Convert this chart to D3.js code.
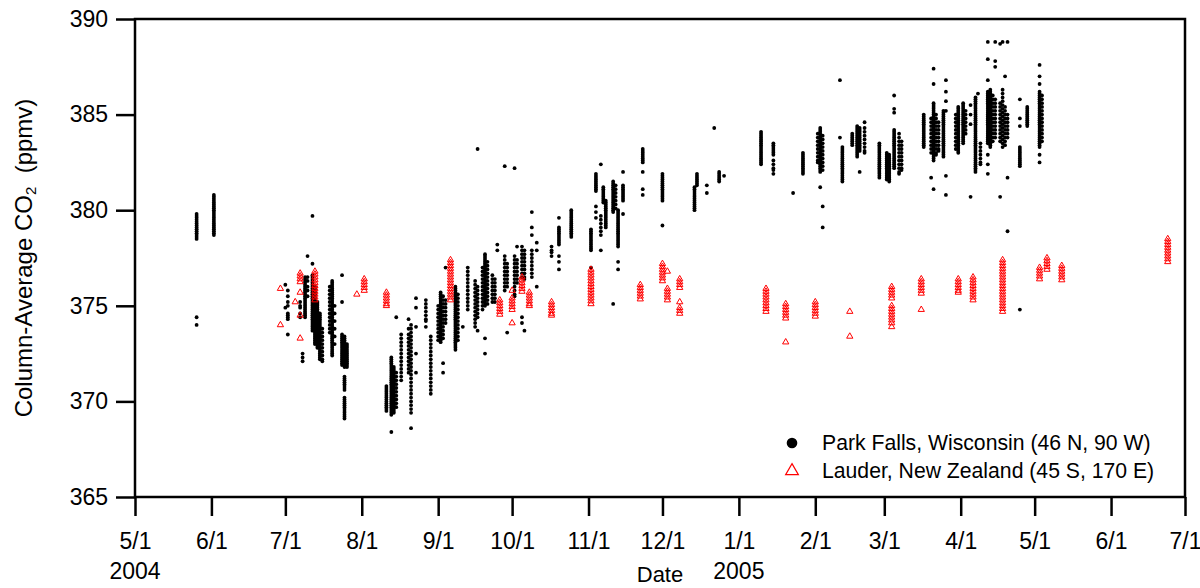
<!DOCTYPE html>
<html>
<head>
<meta charset="utf-8">
<script src="https://cdn.jsdelivr.net/npm/d3@7"></script>
<style>
  body { margin: 0; background: #fff; }
  svg text { font-family: Arial, "Liberation Sans", sans-serif; fill: #000; }
</style>
</head>
<body>
<div id="chart"></div>
<script>
// Park Falls, Wisconsin: [date, column-average CO2 values (ppmv)]
var parkFalls = [
  ["2004-05-26", [379.8,379.7,379.6,379.5,379.4,379.3,379.2,379.1,379.0,378.9,378.8,378.7,378.6,378.5,374.4,374.0]],
  ["2004-06-02", [380.8,380.7,380.6,380.5,380.4,380.3,380.2,380.1,380.0,379.9,379.8,379.7,379.6,379.5,379.4,379.3,379.2,379.1,379.0,378.9,378.8,378.7]],
  ["2004-07-01", [376.1,374.9]],
  ["2004-07-02", [375.8,375.5,375.2,375.0,374.6,374.5,374.4,374.3,373.5]],
  ["2004-07-07", [375.2,375.0,374.9,374.6,374.4]],
  ["2004-07-08", [372.5,372.3,372.1]],
  ["2004-07-09", [376.5,376.4,376.3,376.2,376.1,376.0,375.9,375.8,375.7,375.6,375.5,375.4,375.3,375.2,375.1,375.0,374.9,374.8,374.7,374.6,374.5,374.4]],
  ["2004-07-10", [377.6,376.5,376.3,376.0,375.8,375.5]],
  ["2004-07-12", [379.7,377.2,376.6,376.5,376.4,376.3,376.2,376.1,376.0,375.9,375.8,375.7,375.6,375.5,375.4,375.3,375.2,375.1,375.0,374.9,374.8,374.7,374.6,374.5,374.4,374.3,374.2,374.1,374.0,373.9,373.8,373.7]],
  ["2004-07-13", [376.0,375.9,375.8,375.7,375.6,375.5,375.4,375.3,375.2,375.1,375.0,374.9,374.8,374.7,374.6,374.5,374.4,374.3,374.2,374.1,374.0,373.9,373.8,373.7,373.6,373.5,373.4,373.3,373.2,373.1,373.0]],
  ["2004-07-14", [375.2,375.1,375.0,374.9,374.8,374.7,374.6,374.5,374.4,374.3,374.2,374.1,374.0,373.9,373.8,373.7,373.6,373.5,373.4,373.3,373.2,373.1,373.0,372.9,372.8]],
  ["2004-07-15", [374.6,374.5,374.4,374.3,374.2,374.1,374.0,373.9,373.8,373.7,373.6,373.5,373.4,373.3,373.2,373.1,373.0,372.9,372.8,372.7,372.6,372.5,372.4,372.3,372.2]],
  ["2004-07-16", [373.8,373.6,373.4,373.2,373.0,372.8,372.6,372.4,372.2,372.1]],
  ["2004-07-19", [376.0,375.8,375.6,375.4,375.2,375.0,374.8,374.6,374.4,374.2,374.0,373.8,373.6]],
  ["2004-07-20", [376.3,376.2,376.1,376.0,375.9,375.8,375.7,375.6,375.5,375.4,375.3,375.2,375.1,375.0,374.9,374.8,374.7,374.6,374.5,374.4,374.3,374.2,374.1,374.0,373.9,373.8,373.7,373.6,373.5,373.4,373.3,373.2,373.1,373.0,372.9,372.8,372.7,372.6,372.5,372.4]],
  ["2004-07-21", [375.0,374.6,374.2,373.8,373.4,373.0]],
  ["2004-07-24", [376.6,375.2,373.5,373.4,373.3,373.2,373.1,373.0,372.9,372.8,372.7,372.6,372.5,372.4,372.3,372.2,372.1,372.0,371.9]],
  ["2004-07-25", [373.4,373.3,373.2,373.1,373.0,372.9,372.8,372.7,372.6,372.5,372.4,372.3,372.2,372.1,372.0,371.9,371.8,371.3,371.2,371.1,371.0,370.9,370.8,370.7,370.6,370.2,370.1,370.0,369.9,369.8,369.7,369.6,369.5,369.4,369.3,369.2,369.1]],
  ["2004-07-26", [373.0,372.9,372.8,372.7,372.6,372.5,372.4,372.3,372.2,372.1,372.0,371.9,371.8]],
  ["2004-08-11", [370.8,370.7,370.6,370.5,370.4,370.3,370.2,370.1,370.0,369.9,369.8,369.7,369.6,369.5]],
  ["2004-08-13", [372.3,372.2,372.1,372.0,371.9,371.8,371.7,371.6,371.5,371.4,371.3,371.2,371.1,371.0,370.9,370.8,370.7,370.6,370.5,370.4,370.3,370.2,370.1,370.0,369.9,369.8,369.7,369.6,369.5,369.4,369.3,368.4]],
  ["2004-08-14", [371.8,371.7,371.6,371.5,371.4,371.3,371.2,371.1,371.0,370.9,370.8,370.7,370.6,370.5,370.4,370.3,370.2,370.1,370.0,369.9,369.8,369.7,369.6,369.5,369.4]],
  ["2004-08-15", [374.4,371.5,371.3,371.1,370.9,370.7,370.5,370.3,370.1,369.9,369.7]],
  ["2004-08-17", [373.5,373.3,373.1,372.9,372.7,372.5,372.3,372.1,371.9,371.7,371.5,371.3,371.1]],
  ["2004-08-20", [374.3,373.8,373.5,373.3,373.1,372.9,372.7,372.5,372.3,372.1,371.9,371.7,371.5]],
  ["2004-08-21", [374.0,373.8,373.6,373.4,373.2,373.0,372.8,372.6,372.4,372.2,372.0,371.8,371.6,371.4,371.2,371.0,370.8,370.6,370.4,370.2,370.0,369.8,369.6,369.4,368.6]],
  ["2004-08-23", [375.4,374.9,373.9,372.5,371.5]],
  ["2004-08-27", [375.3,375.1,374.9,374.7,374.5,374.3,374.2,373.9]],
  ["2004-08-29", [373.4,373.2,373.0,372.8,372.6,372.4,372.2,372.0,371.8,371.6,371.4,371.2,371.0,370.8,370.6,370.4]],
  ["2004-09-01", [375.0,374.8,374.6,374.4,374.2,374.0,373.8,373.6,373.4,373.2]],
  ["2004-09-02", [375.7,375.6,375.5,375.4,375.3,375.2,375.1,375.0,374.9,374.8,374.7,374.6,374.5,374.4,374.3,374.2,374.1,374.0,373.9,373.8,373.7,373.6,373.5,373.4,373.3,373.2,373.1]],
  ["2004-09-03", [375.5,375.3,375.1,374.9,374.7,374.5,374.3,374.1,373.9,373.7,373.5,373.3,372.0,371.5]],
  ["2004-09-04", [377.0,375.3,375.1,374.9,374.7,374.5,374.3,374.1]],
  ["2004-09-08", [376.0,375.9,375.8,375.7,375.6,375.5,375.4,375.3,375.2,375.1,375.0,374.9,374.8,374.7,374.6,374.5,374.4,374.3,374.2,374.1,374.0,373.9,373.8,373.7,373.6,373.5,373.4,373.3,373.2,373.1,373.0,372.9,372.8,372.7]],
  ["2004-09-09", [375.6,375.4,375.2,375.0,374.8,374.6,374.4,374.2,374.0,373.8,373.6,373.4,373.2]],
  ["2004-09-11", [373.9]],
  ["2004-09-13", [377.0,376.8,376.6,376.4,376.2,376.0,375.8,375.6,375.4,375.2,375.0,374.8]],
  ["2004-09-16", [376.3,376.1,375.9,375.7,375.5,375.3,375.1,374.9,374.7,374.5,374.3,374.1,373.9]],
  ["2004-09-17", [383.2,376.0,375.8,375.6,375.4,375.2,375.0,374.8,374.6,374.4,373.7]],
  ["2004-09-19", [377.0,376.8,376.6,376.4,376.2,376.0,375.8,375.6,375.4,375.2,375.0,374.8]],
  ["2004-09-20", [377.7,377.6,377.5,377.4,377.3,377.2,377.1,377.0,376.9,376.8,376.7,376.6,376.5,376.4,376.3,376.2,376.1,376.0,375.9,375.8,375.7,375.6,375.5,375.4,375.3,375.2,375.1,375.0,373.3,372.5]],
  ["2004-09-21", [377.3,377.1,376.9,376.7,376.5,376.3,376.1,375.9,375.7,375.5,375.3,375.1]],
  ["2004-09-23", [376.6,376.4,376.2,376.0,375.8,375.6,375.4,375.2]],
  ["2004-09-24", [376.4,376.2,376.0,375.8,375.6,375.4,375.2]],
  ["2004-09-25", [378.2,377.9]],
  ["2004-09-28", [382.3,377.6,377.4,377.2,377.0,376.8,376.6,376.4,376.2,376.0,375.8]],
  ["2004-09-29", [377.2,377.0,376.8,376.6,376.4,376.2,376.0,373.6]],
  ["2004-10-02", [382.2,377.6,377.4,377.2,377.0,376.8,376.6,376.4,376.2,376.0,375.8,375.6,375.5]],
  ["2004-10-03", [378.1,377.4,377.2,377.0,376.8,376.6,376.4,376.2]],
  ["2004-10-05", [378.1,377.9,377.7,377.5,377.3,377.1,376.9,376.7,376.5,374.4,374.1]],
  ["2004-10-06", [377.9,377.7,377.5,377.3,377.1,376.9,376.7,376.5,376.4,373.7]],
  ["2004-10-09", [379.9,379.1,378.7,377.9,377.7,377.5,377.3,377.1,376.9,376.7,376.5]],
  ["2004-10-11", [378.3,377.9,376.0]],
  ["2004-10-17", [378.1,377.9,377.8,377.6]],
  ["2004-10-20", [379.6,379.1,379.0,378.9,378.8,378.7,378.6,378.5,378.4,378.3,378.2,377.6,377.3,376.9]],
  ["2004-10-25", [380.0,379.9,379.8,379.7,379.6,379.5,379.4,379.3,379.2,379.1,379.0,378.9,378.8,378.7,378.6]],
  ["2004-11-02", [379.0,378.9,378.8,378.7,378.6,378.5,378.4,378.3,378.2,378.1,378.0,377.9,377.0]],
  ["2004-11-04", [381.9,381.8,381.7,381.6,381.5,381.4,381.3,381.2,381.1,381.0,380.2,379.9,379.6]],
  ["2004-11-06", [382.4,379.7,379.5,379.3,379.1,378.9,378.7,377.9]],
  ["2004-11-07", [381.2,381.1,381.0,380.9,380.8,380.7,380.6,380.5,380.4]],
  ["2004-11-08", [380.5,380.4,380.3,380.2,380.1,380.0,379.9,379.8,379.7,379.6,379.5,379.4,379.3,379.2,379.1]],
  ["2004-11-11", [381.5,381.4,381.3,381.2,381.1,381.0,380.9,380.8,380.7,380.6,380.5,380.4,380.3,380.2,380.1,380.0,379.9,375.1]],
  ["2004-11-12", [381.3,381.1,380.9,380.7,380.5,380.3,380.1]],
  ["2004-11-13", [380.0,379.9,379.8,379.7,379.6,379.5,379.4,379.3,379.2,379.1,379.0,378.9,378.8,378.7,378.6,378.5,378.4,378.3,378.2,378.1,377.3,376.9]],
  ["2004-11-15", [382.0,381.3,381.2,381.1,381.0,380.9,380.8,380.7,380.6,380.5,379.8]],
  ["2004-11-23", [383.2,383.1,383.0,382.9,382.8,382.7,382.6,382.5,382.0,381.1,380.8]],
  ["2004-12-01", [381.9,381.8,381.7,381.6,381.5,381.4,381.3,381.2,381.1,381.0,380.9,380.8,380.7,380.6,380.5,379.2]],
  ["2004-12-14", [381.2,381.1,381.0,380.9,380.8,380.7,380.6,380.5,380.4,380.3,380.2,380.1,380.0]],
  ["2004-12-15", [381.9,381.8,381.7,381.6,381.5,381.4,381.3]],
  ["2004-12-19", [381.3,380.9]],
  ["2004-12-22", [384.3]],
  ["2004-12-24", [382.0,381.9,381.8,381.7,381.6,381.5]],
  ["2004-12-26", [381.8]],
  ["2005-01-10", [384.1,384.0,383.9,383.8,383.7,383.6,383.5,383.4,383.3,383.2,383.1,383.0,382.9,382.8,382.7,382.6,382.5,382.4]],
  ["2005-01-15", [383.5,383.4,383.3,383.2,383.1,383.0,382.9,382.6,382.4,382.2,382.1,381.9]],
  ["2005-01-23", [380.9]],
  ["2005-01-27", [383.0,382.9,382.8,382.7,382.6,382.5,382.4,382.3,382.2,382.1,382.0,381.9]],
  ["2005-02-02", [384.0,383.8,383.6,383.4,383.2,383.0,382.8,382.6,382.5]],
  ["2005-02-03", [384.3,384.2,384.1,384.0,383.9,383.8,383.7,383.6,383.5,383.4,383.3,383.2,383.1,383.0,382.9,382.8,382.7,382.6,382.5,382.4,382.3,382.2,382.1,382.0,381.2]],
  ["2005-02-04", [383.9,383.7,383.5,383.3,383.1,382.9,382.7,382.5,382.3,382.1,380.2,379.1]],
  ["2005-02-11", [386.8,383.8]],
  ["2005-02-12", [383.3,383.2,383.1,383.0,382.9,382.8,382.7,382.6,382.5,382.4,382.3,382.2,382.1,382.0,381.9,381.8,381.7,381.6,381.5]],
  ["2005-02-16", [384.0,383.9,383.8,383.7,383.6,383.5,383.4]],
  ["2005-02-18", [384.4,384.3,384.2,384.1,384.0,383.9,383.8,383.7,383.6,383.5,383.4,383.3,383.2,383.1,383.0,382.9,382.8]],
  ["2005-02-19", [384.3,384.2,384.1,384.0,383.9,383.8,383.7,383.6,383.5,383.4,383.3,383.2,383.1,382.0]],
  ["2005-02-21", [384.6,384.3,384.1,383.9,383.7,383.5,383.3,383.1,383.0]],
  ["2005-02-27", [383.5,383.4,383.3,383.2,383.1,383.0,382.9,382.8,382.7,382.6,382.5,382.4,382.3,382.2,382.1,382.0,381.9,381.8,381.7]],
  ["2005-03-02", [383.0,382.9,382.8,382.7,382.6,382.5,382.4,382.3,382.2,382.1,382.0,381.9,381.8,381.7,381.6]],
  ["2005-03-03", [382.9,382.8,382.7,382.6,382.5,382.4,382.3,382.2,382.1,382.0,381.9,381.8,381.7,381.6,381.5]],
  ["2005-03-05", [386.0,385.3,385.1,384.2,384.1,384.0,383.9,383.8,383.7,383.6,383.5,383.4,383.3,383.2,383.1,383.0,382.9,382.8,382.7,382.6,382.5,382.4,382.3,382.2]],
  ["2005-03-07", [384.0,383.8,383.6,383.4,383.2,383.0,382.8,382.6,382.4,382.2,382.0,381.9]],
  ["2005-03-08", [383.6,383.4,383.2,383.0,382.8,382.6,382.4,382.2,382.1]],
  ["2005-03-17", [385.0,384.9,384.8,384.7,384.6,384.5,384.4,384.3,384.2,384.1,384.0,383.9,383.8,383.7,383.6,383.5,383.4,383.3]],
  ["2005-03-20", [384.8,384.6,384.4,384.2,384.0,383.8,383.6,383.4,383.2,383.0,381.7]],
  ["2005-03-21", [387.4,386.6,385.6,385.5,385.4,385.3,385.2,385.1,385.0,384.9,384.8,384.7,384.6,384.5,384.4,384.3,384.2,384.1,384.0,383.9,383.8,383.7,383.6,383.5,383.4,383.3,383.2,383.1,383.0,382.9,382.8,382.7,382.6,381.1]],
  ["2005-03-22", [385.0,384.8,384.6,384.4,384.2,384.0,383.8,383.6,383.4,383.2,383.0,382.9]],
  ["2005-03-23", [384.6,384.4,384.2,384.0,383.8,383.6,383.4,383.2,383.1]],
  ["2005-03-25", [385.2,385.1,385.0,384.9,384.8,384.7,384.6,384.5,384.4,384.3,384.2,384.1,384.0,383.9,383.8,383.7,383.6,383.5,383.4,383.3,383.2,383.1,383.0,382.9,382.8]],
  ["2005-03-26", [386.8,386.2,385.7,385.2,381.8,380.8]],
  ["2005-03-30", [385.0,384.8,384.6,384.4,384.2,384.0,383.8,383.6,383.4,383.2]],
  ["2005-03-31", [385.4,385.3,385.2,385.1,385.0,384.9,384.8,384.7,384.6,384.5,384.4,384.3,384.2,384.1,384.0,383.9,383.8,383.7,383.6,383.5,383.4,383.3,383.2,383.1,383.0]],
  ["2005-04-02", [385.6,385.5,385.4,385.3,385.2,385.1,385.0,384.9,384.8,384.7,384.6,384.5,384.4,384.3,384.2,384.1,384.0,383.9,383.8,383.7,383.6,383.5]],
  ["2005-04-03", [385.2,385.0,384.8,384.6,384.4,384.2,384.0]],
  ["2005-04-05", [385.5,385.0,384.5,380.7]],
  ["2005-04-07", [385.9,385.8,385.7,385.6,385.5,385.4,385.3,385.2,385.1,385.0,384.9,384.8,384.7,384.6,384.5,384.4,384.3,384.2,384.1,384.0,383.9,383.8,383.7,383.6,383.5,383.4,383.3,383.2,383.1,383.0,382.9,382.8,382.7,382.6,382.5,382.4,382.3,382.2,382.1,382.0]],
  ["2005-04-08", [386.1]],
  ["2005-04-09", [383.5,383.3,383.1,382.9,382.7,382.5,382.4]],
  ["2005-04-12", [388.8,387.9,386.8,386.2,386.1,386.0,385.9,385.8,385.7,385.6,385.5,385.4,385.3,385.2,385.1,385.0,384.9,384.8,384.7,384.6,384.5,384.4,384.3,384.2,384.1,384.0,383.9,383.8,383.7,383.6,383.5,382.9,382.4,381.9]],
  ["2005-04-13", [386.3,386.2,386.1,386.0,385.9,385.8,385.7,385.6,385.5,385.4,385.3,385.2,385.1,385.0,384.9,384.8,384.7,384.6,384.5,384.4,384.3,384.2,384.1,384.0,383.9,383.8,383.7,383.6,383.5,383.4,383.3]],
  ["2005-04-14", [386.0,385.8,385.6,385.4,385.2,385.0,384.8,384.6,384.4,384.2,384.0,383.8,383.6]],
  ["2005-04-15", [388.8,387.8,387.5,385.8,385.6,385.4,385.2,385.0,384.8,384.6,384.4,384.2,384.0,383.8]],
  ["2005-04-17", [388.7,385.6,385.4,385.2,385.0,384.8,384.6,384.4,384.2,384.0,383.8,383.6,380.7]],
  ["2005-04-18", [388.8,386.3,386.1,385.9,385.7,385.5,385.3,385.1,384.9,384.7,384.5,384.3,384.1,383.9,383.7,383.5,383.3]],
  ["2005-04-19", [387.0,385.4,385.2,385.0,384.8,384.6,384.4,384.2,384.0,383.8,383.6,383.4]],
  ["2005-04-20", [388.8,385.0,384.8,384.6,384.4,384.2,384.0,383.8,381.7,378.9]],
  ["2005-04-25", [385.8,384.8,384.4,383.3,383.2,383.1,383.0,382.9,382.8,382.7,382.6,382.5,382.4,382.3,374.8]],
  ["2005-04-28", [385.4,385.3,385.2,385.1,385.0,384.9,384.8,384.7,384.6,384.5,384.4]],
  ["2005-05-03", [387.6,387.0,386.6,386.2,386.1,386.0,385.9,385.8,385.7,385.6,385.5,385.4,385.3,385.2,385.1,385.0,384.9,384.8,384.7,384.6,384.5,384.4,384.3,384.2,384.1,384.0,383.9,383.8,383.7,383.6,383.5,383.4,383.3,382.9,382.5]],
  ["2005-05-04", [386.0,385.8,385.6,385.4,385.2,385.0,384.8,384.6,384.4,384.2,384.0,383.8,383.6]]
];

// Lauder, New Zealand
var lauder = [
  ["2004-06-29", [375.9,374.0]],
  ["2004-07-05", [375.2]],
  ["2004-07-07", [376.7,376.55,376.4,376.25,375.7,374.5,373.3]],
  ["2004-07-13", [376.8,376.65,376.5,376.35,376.2,376.05,375.9,375.75,375.6,375.45,375.3]],
  ["2004-07-30", [375.6]],
  ["2004-08-02", [376.4,376.25,376.1,375.95,375.8]],
  ["2004-08-11", [375.7,375.55,375.4,375.25,375.1,375.0]],
  ["2004-09-06", [377.4,377.25,377.1,376.95,376.8,376.65,376.5,376.35,376.2,376.05,375.9,375.75,375.6,375.45,375.3]],
  ["2004-09-26", [375.3,375.15,375.0,374.85,374.7,374.55]],
  ["2004-10-01", [375.8,375.4,375.25,375.1,374.95,374.8,374.1]],
  ["2004-10-05", [376.5,376.35,376.2,376.05,375.9,375.75]],
  ["2004-10-08", [375.7,375.55,375.4,375.25,375.1,375.0]],
  ["2004-10-17", [375.2,375.05,374.9,374.75,374.6,374.5]],
  ["2004-11-02", [376.9,376.75,376.6,376.45,376.3,376.15,376.0,375.85,375.7,375.55,375.4,375.25,375.1]],
  ["2004-11-22", [376.1,375.95,375.8,375.65,375.5,375.35]],
  ["2004-12-01", [377.2,377.05,376.9,376.75,376.6,376.45,376.3]],
  ["2004-12-03", [376.8,375.9,375.75,375.6,375.45,375.3]],
  ["2004-12-08", [376.4,376.25,376.1,375.95,375.2,374.9,374.75,374.6]],
  ["2005-01-12", [375.9,375.75,375.6,375.45,375.3,375.15,375.0,374.85,374.7]],
  ["2005-01-20", [375.1,374.95,374.8,374.65,374.5,374.35,373.1]],
  ["2005-02-01", [375.2,375.05,374.9,374.75,374.6,374.45]],
  ["2005-02-15", [374.7,373.4]],
  ["2005-03-04", [376.0,375.85,375.7,375.55,375.4,375.0,374.85,374.7,374.55,374.4,374.25,374.1,373.9]],
  ["2005-03-16", [376.4,376.25,376.1,375.95,375.8,375.65,374.8]],
  ["2005-03-31", [376.4,376.25,376.1,375.95,375.8,375.7]],
  ["2005-04-06", [376.5,376.35,376.2,376.05,375.9,375.75,375.6,375.45,375.3]],
  ["2005-04-18", [377.4,377.25,377.1,376.95,376.8,376.65,376.5,376.35,376.2,376.05,375.9,375.75,375.6,375.45,375.3,375.15,375.0,374.85,374.7]],
  ["2005-05-03", [377.0,376.85,376.7,376.55,376.4]],
  ["2005-05-06", [377.5,377.35,377.2,377.05,376.9]],
  ["2005-05-12", [377.1,376.95,376.8,376.65,376.5,376.35]],
  ["2005-06-24", [378.5,378.35,378.2,378.05,377.9,377.75,377.6,377.45,377.3]]
];

var xDomain = ["2004-05-01", "2005-07-01"];
var yTicks = [365, 370, 375, 380, 385, 390];
var yearLabels = [["2004-05-01", "2004"], ["2005-01-01", "2005"]];
var legendLabels = ["Park Falls, Wisconsin (46 N, 90 W)", "Lauder, New Zealand (45 S, 170 E)"];

var parse = d3.utcParse("%Y-%m-%d");
function flatten(rows) {
  var out = [];
  rows.forEach(function(r) {
    r[1].forEach(function(v) { out.push({date: parse(r[0]), val: v}); });
  });
  return out;
}
var pfPoints = flatten(parkFalls);
var ldPoints = flatten(lauder);

var W = 1200, H = 588;
var margin = {top: 19, right: 15, bottom: 91, left: 135};
var width = W - margin.left - margin.right,
    height = H - margin.top - margin.bottom;

var svg = d3.select("#chart").append("svg")
    .attr("width", W).attr("height", H);
var g = svg.append("g")
    .attr("transform", "translate(" + margin.left + "," + margin.top + ")");

var x = d3.scaleUtc().domain(xDomain.map(parse)).range([0, width]);
var y = d3.scaleLinear().domain([365, 390]).range([height, 0]);

// points
g.append("g").selectAll("circle")
  .data(pfPoints).enter().append("circle")
    .attr("cx", function(d) { return x(d.date); })
    .attr("cy", function(d) { return y(d.val); })
    .attr("r", 1.9)
    .attr("fill", "#000");

var tri = d3.symbol().type(d3.symbolTriangle).size(17);
g.append("g").selectAll("path")
  .data(ldPoints).enter().append("path")
    .attr("d", tri)
    .attr("transform", function(d) { return "translate(" + x(d.date) + "," + y(d.val) + ")"; })
    .attr("fill", "none")
    .attr("stroke", "#ff0000")
    .attr("stroke-width", 1);

// axes
var xAxis = g.append("g")
    .attr("transform", "translate(0," + height + ")")
    .call(d3.axisBottom(x)
      .ticks(d3.utcMonth.every(1))
      .tickFormat(function(d) { return (d.getUTCMonth() + 1) + "/1"; })
      .tickSize(19).tickSizeOuter(0).tickPadding(17));
xAxis.selectAll("line").attr("stroke", "#000").attr("stroke-width", 2.5);
xAxis.select(".domain").remove();
xAxis.selectAll("text").style("font-size", "23px").attr("fill", "#000");

var yAxis = g.append("g")
    .call(d3.axisLeft(y).tickValues(yTicks).tickSize(19).tickSizeOuter(0).tickPadding(8));
yAxis.selectAll("line").attr("stroke", "#000").attr("stroke-width", 2.5);
yAxis.select(".domain").remove();
yAxis.selectAll("text").style("font-size", "23px").attr("fill", "#000");

// frame
g.append("rect")
    .attr("width", width).attr("height", height)
    .attr("fill", "none").attr("stroke", "#000").attr("stroke-width", 2.5);

// year labels
g.selectAll(".year").data(yearLabels).enter().append("text")
    .attr("class", "year")
    .attr("x", function(d) { return x(parse(d[0])); })
    .attr("y", height + 82)
    .attr("text-anchor", "middle")
    .style("font-size", "23px")
    .text(function(d) { return d[1]; });

// axis titles
g.append("text")
    .attr("x", width / 2).attr("y", height + 85)
    .attr("text-anchor", "middle")
    .style("font-size", "22px")
    .text("Date");

var yt = svg.append("text")
    .attr("transform", "translate(32," + (margin.top + 239) + ") rotate(-90)")
    .attr("text-anchor", "middle")
    .style("font-size", "24px");
yt.append("tspan").text("Column-Average CO");
yt.append("tspan").attr("baseline-shift", "-25%").style("font-size", "15px").text("2");
yt.append("tspan").text("\u00a0 (ppmv)");

// legend
var lg = svg.append("g").attr("transform", "translate(792,443)");
lg.append("circle").attr("r", 5.3).attr("fill", "#000");
lg.append("path")
    .attr("d", d3.symbol().type(d3.symbolTriangle).size(70))
    .attr("transform", "translate(0,28)")
    .attr("fill", "none").attr("stroke", "#ff0000").attr("stroke-width", 1.2);
lg.selectAll("text").data(legendLabels).enter().append("text")
    .attr("x", 30)
    .attr("y", function(d, i) { return 7 + i * 27.5; })
    .style("font-size", "21.2px")
    .text(function(d) { return d; });
</script>
</body>
</html>
